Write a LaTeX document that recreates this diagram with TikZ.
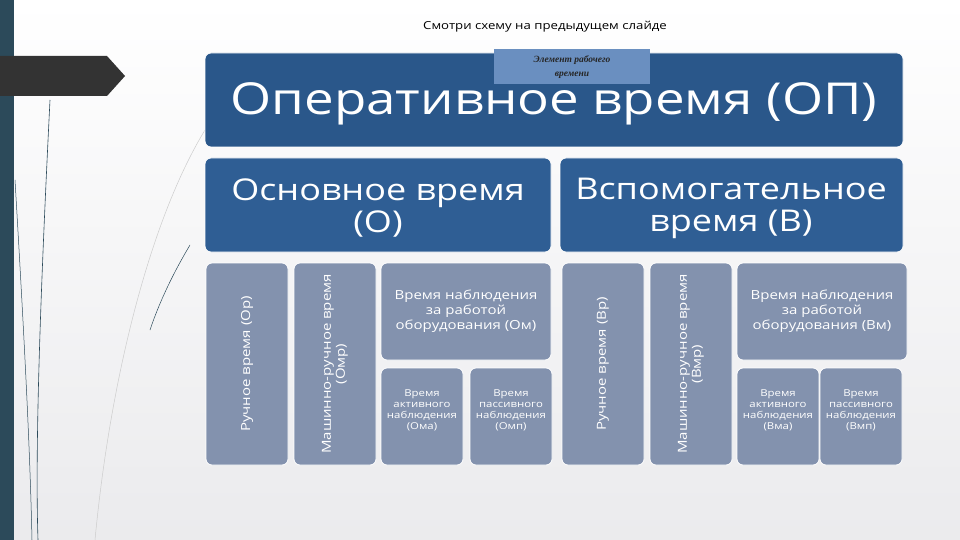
\documentclass[tikz,border=0pt]{standalone}
\usepackage{fontspec}
\setmainfont{Open Sans}[FakeStretch=1.2]
\newfontfamily\serifit{Liberation Serif}
\definecolor{bar}{HTML}{2C4A5A}
\definecolor{titleb}{HTML}{2A578A}
\definecolor{mainb}{HTML}{2F5E94}
\definecolor{subb}{HTML}{8392AE}
\definecolor{labb}{HTML}{6A8FC0}
\begin{document}
\begin{tikzpicture}[x=1pt,y=-1pt,
  bx/.style={rounded corners=6pt,draw=white,line width=0.8pt},
  tx/.style={text=white,align=center,font=#1},
  tx/.default=\small]
\path[top color=white,bottom color=blue!6!gray!15] (0,0) rectangle (960,540);
\useasboundingbox (0,0) rectangle (960,540);
\fill[bar] (0,0) rectangle (14,540);
\fill[black!80] (0,56) -- (107,56) -- (125,76) -- (107,96) -- (0,96) -- cycle;
% decorative curves
\draw[bar,line width=0.6pt] (50,100) .. controls (40,300) and (35,450) .. (38,540);
\draw[bar,line width=0.5pt] (15,180) .. controls (25,350) and (30,450) .. (32,540);
\draw[gray!40,line width=0.5pt] (205,130) .. controls (150,220) and (110,380) .. (95,540);
\draw[bar,line width=0.5pt] (190,245) .. controls (175,270) and (160,300) .. (150,330);
\node[font=\fontsize{11}{13}\selectfont] (top) at (545,27) {Смотри схему на предыдущем слайде};
\draw[bx,fill=titleb] (205,53) rectangle (903,147);
\node[tx=\fontsize{44}{50}\selectfont] (t) at (554,104) {Оперативное время (ОП)};
\fill[labb] (494,49) rectangle (650,84);
\node[font=\serifit\bfseries\itshape\fontsize{9.5}{14}\selectfont,text=black!85,align=center] (lab) at (572,67) {Элемент рабочего\\времени};
\draw[bx,fill=mainb] (205,158) rectangle (551,252);
\node[tx=\fontsize{30}{32}\selectfont] (o) at (378,208) {Основное время\\(О)};
\draw[bx,fill=mainb] (560,158) rectangle (903,252);
\node[tx=\fontsize{30}{32}\selectfont] (v) at (731,208) {Вспомогательное\\время (В)};
\foreach \x/\n/\t in {206/op/{Ручное время (Ор)},294/omr/{Машинно-ручное время\\(Омр)},562/vr/{Ручное время (Вр)},650/vmr/{Машинно-ручное время\\(Вмр)}}{
  \draw[bx,fill=subb] (\x,263) rectangle (\x+82,465);
  \node[tx=\fontsize{12.5}{14}\selectfont,rotate=90] (\n) at (\x+41,364) {\t};
}
\foreach \x/\n/\t in {381/om/{Время наблюдения\\за работой\\оборудования (Ом)},737/vm/{Время наблюдения\\за работой\\оборудования (Вм)}}{
  \draw[bx,fill=subb] (\x,263) rectangle (\x+170,360);
  \node[tx=\fontsize{12.5}{15}\selectfont] (\n) at (\x+85,311) {\t};
}
\foreach \x/\n/\t in {381/oma/{Время\\активного\\наблюдения\\(Ома)},470/omp/{Время\\пассивного\\наблюдения\\(Омп)},737/vma/{Время\\активного\\наблюдения\\(Вма)},820/vmp/{Время\\пассивного\\наблюдения\\(Вмп)}}{
  \draw[bx,fill=subb] (\x,368) rectangle (\x+82,465);
  \node[tx=\fontsize{9.5}{11}\selectfont] (\n) at (\x+41,410) {\t};
}
\end{tikzpicture}
\end{document}
